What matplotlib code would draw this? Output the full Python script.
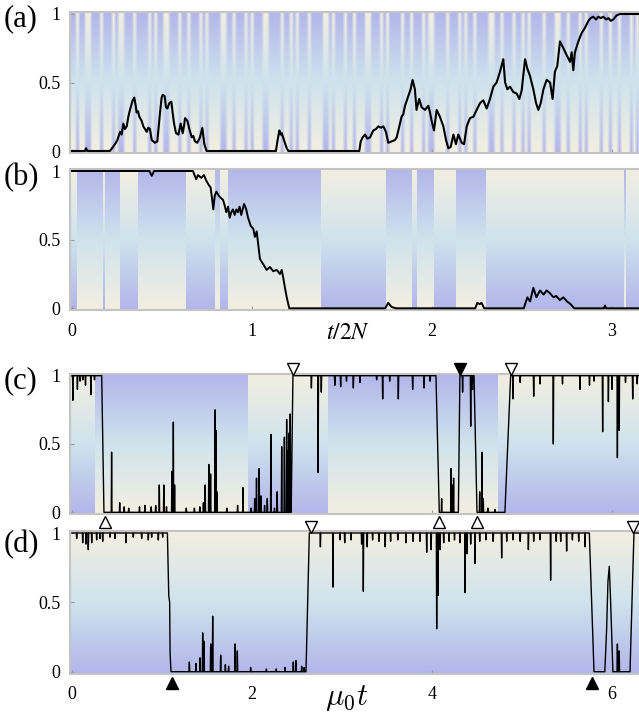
import numpy as np
import matplotlib
matplotlib.use('Agg')
import matplotlib.pyplot as plt
from matplotlib.colors import LinearSegmentedColormap

plt.rcParams['font.family'] = ['Liberation Serif', 'DejaVu Serif']
plt.rcParams['mathtext.fontset'] = 'stix'

# ---------------- data ----------------
# environment state: B = blue at top, C = cream at top
# (a) fast switching, one character per bin over 0..3.15
a_states = ("BBCBBCCBBB" "CBBBCBCCBB" "BCBBBBCBCB" "BCCBBBCBBC" "BBBCBCBBBB"
            "CCBBCBBBCB" "CBBBCCBBBB" "CBBCBCBBBC" "BBBBCCBCBB" "BCBBCBBBCC"
            "BBBCBCBBBB" "CBBCBBBCBC" "CBBBBCBBBC" "BCBBCBBBBC" "CBBCBBBCBB"
            "CBCBBBBCBB" "BCCBBCBBBC" "BCBBBBCBBC" "BBCBBBCBCB")
# (b)-(d): switch times, state alternates starting from the given one
b_switch = [0.0, 0.024, 0.172, 0.18, 0.265, 0.367, 0.635, 0.793, 0.82, 0.867,
            1.383, 1.744, 1.887, 1.915, 2.011, 2.131, 2.303, 3.067, 3.078]
b_first = 'C'
c_switch = [0.0, 0.256, 1.95, 2.848, 4.737]
c_first = 'C'
d_switch = [0.0]
d_first = 'C'

# (a) trajectory, t in units of 2N
a_t = [0.0, 0.072, 0.078, 0.085, 0.211, 0.239, 0.252, 0.267, 0.276, 0.285, 0.294, 0.304,
       0.313, 0.322, 0.337, 0.346, 0.354, 0.359, 0.367, 0.374, 0.387, 0.396, 0.406, 0.415,
       0.424, 0.433, 0.443, 0.461, 0.474, 0.483, 0.489, 0.498, 0.504, 0.515, 0.522, 0.530,
       0.541, 0.552, 0.559, 0.567, 0.578, 0.591, 0.604, 0.615, 0.622, 0.628, 0.641, 0.652,
       0.665, 0.674, 0.683, 0.696, 0.711, 0.724, 0.735, 0.748, 1.133, 1.141, 1.152, 1.159,
       1.165, 1.178, 1.193, 1.202, 1.596, 1.604, 1.615, 1.628, 1.641, 1.656, 1.674, 1.689,
       1.702, 1.717, 1.730, 1.744, 1.757, 1.776, 1.794, 1.804, 1.813, 1.831, 1.841, 1.850,
       1.868, 1.881, 1.892, 1.905, 1.914, 1.929, 1.942, 1.961, 1.980, 1.989, 1.998, 2.011,
       2.026, 2.044, 2.063, 2.078, 2.091, 2.104, 2.119, 2.133, 2.146, 2.165, 2.178, 2.193,
       2.211, 2.230, 2.248, 2.267, 2.285, 2.304, 2.322, 2.341, 2.359, 2.378, 2.396, 2.406,
       2.419, 2.433, 2.452, 2.470, 2.485, 2.498, 2.517, 2.530, 2.544, 2.563, 2.578, 2.591,
       2.604, 2.619, 2.637, 2.656, 2.670, 2.683, 2.696, 2.711, 2.730, 2.748, 2.767, 2.776,
       2.785, 2.794, 2.813, 2.831, 2.850, 2.869, 2.881, 2.896, 2.911, 2.924, 2.937, 2.952,
       2.967, 2.980, 2.993, 3.007, 3.026, 3.044, 3.17]
a_y = [0.0, 0.0, 0.02, 0.0, 0.0, 0.05, 0.08, 0.14, 0.12, 0.20, 0.16, 0.18,
       0.25, 0.30, 0.37, 0.39, 0.33, 0.28, 0.29, 0.25, 0.22, 0.18, 0.16, 0.14,
       0.17, 0.16, 0.08, 0.06, 0.07, 0.20, 0.28, 0.39, 0.41, 0.40, 0.32, 0.31,
       0.35, 0.36, 0.28, 0.20, 0.13, 0.12, 0.20, 0.13, 0.18, 0.24, 0.22, 0.16,
       0.10, 0.11, 0.07, 0.06, 0.10, 0.17, 0.05, 0.0, 0.0, 0.07, 0.15, 0.12,
       0.13, 0.08, 0.02, 0.0, 0.0, 0.07, 0.10, 0.12, 0.09, 0.10, 0.15, 0.16,
       0.18, 0.17, 0.18, 0.14, 0.06, 0.07, 0.08, 0.10, 0.15, 0.25, 0.27, 0.33,
       0.40, 0.45, 0.52, 0.45, 0.30, 0.38, 0.32, 0.30, 0.33, 0.28, 0.22, 0.15,
       0.30, 0.25, 0.18, 0.08, 0.02, 0.03, 0.12, 0.05, 0.12, 0.06, 0.05, 0.18,
       0.24, 0.25, 0.30, 0.35, 0.37, 0.31, 0.38, 0.47, 0.50, 0.58, 0.67, 0.50,
       0.45, 0.47, 0.43, 0.42, 0.38, 0.44, 0.67, 0.60, 0.55, 0.45, 0.35, 0.30,
       0.35, 0.45, 0.52, 0.50, 0.38, 0.58, 0.62, 0.80, 0.75, 0.70, 0.65, 0.72,
       0.59, 0.72, 0.80, 0.86, 0.90, 0.95, 0.97, 0.98, 0.96, 0.98, 0.97, 0.98,
       0.96, 0.97, 0.95, 0.96, 0.99, 1.0, 1.0]

# (b) trajectory
b_t = [0.0, 0.43, 0.443, 0.456, 0.672, 0.681, 0.69, 0.70, 0.719, 0.733, 0.746, 0.759,
       0.77, 0.778, 0.785, 0.793, 0.802, 0.815, 0.83, 0.839, 0.848, 0.857, 0.867, 0.876,
       0.885, 0.894, 0.904, 0.913, 0.922, 0.931, 0.94, 0.956, 0.968, 0.978, 0.993, 1.007,
       1.016, 1.026, 1.035, 1.044, 1.053, 1.063, 1.081, 1.10, 1.118, 1.137, 1.155, 1.165,
       1.174, 1.183, 1.193, 1.207, 1.74, 1.757, 1.775, 1.80, 2.24, 2.252, 2.265, 2.275,
       2.29, 2.51, 2.517, 2.53, 2.545, 2.563, 2.58, 2.60, 2.62, 2.637, 2.655, 2.675,
       2.69, 2.71, 2.73, 2.75, 2.77, 2.79, 2.955, 2.961, 2.967, 3.17]
b_y = [1.0, 1.0, 0.965, 1.0, 1.0, 0.97, 0.94, 0.97, 0.95, 0.97, 0.93, 0.90,
       0.88, 0.80, 0.72, 0.82, 0.85, 0.82, 0.80, 0.79, 0.75, 0.70, 0.74, 0.66,
       0.70, 0.72, 0.68, 0.72, 0.70, 0.74, 0.68, 0.76, 0.72, 0.66, 0.60, 0.58,
       0.52, 0.56, 0.46, 0.36, 0.34, 0.32, 0.28, 0.30, 0.27, 0.28, 0.25, 0.28,
       0.22, 0.15, 0.08, 0.0, 0.0, 0.04, 0.01, 0.0, 0.0, 0.04, 0.03, 0.04,
       0.0, 0.0, 0.03, 0.08, 0.05, 0.15, 0.08, 0.13, 0.10, 0.13, 0.11, 0.08,
       0.09, 0.06, 0.08, 0.05, 0.03, 0.0, 0.0, 0.02, 0.0, 0.0]

# (c) trajectory in units of 1/mu0: plateaus and jumps, plus sharp spikes
c_t = [0.0, 0.33, 0.355, 2.435, 2.455, 4.044, 4.081, 4.293, 4.31, 4.467, 4.50, 4.81, 4.874, 6.34]
c_y = [1.0, 1.0, 0.0, 0.0, 1.0, 1.0, 0.0, 0.0, 1.0, 1.0, 0.0, 0.0, 1.0, 1.0]
c_spike_t = [0.01, 0.06, 0.09, 0.12, 0.15, 0.21, 0.25,
             0.44, 0.53, 0.58, 0.63, 0.75, 0.81, 0.88, 0.93, 0.97, 1.02, 1.05, 1.11, 1.126,
             1.14, 1.27, 1.36, 1.42, 1.46, 1.48, 1.52, 1.54, 1.589, 1.60, 1.61, 1.72, 1.84,
             1.90, 1.99, 2.03, 2.05, 2.08, 2.10, 2.14, 2.17, 2.21, 2.25, 2.28, 2.33, 2.36,
             2.385, 2.40, 2.41, 2.425,
             2.66, 2.735, 2.77, 2.92, 2.985, 3.05, 3.126, 3.2, 3.385, 3.452, 3.53, 3.626,
             3.785, 3.911, 3.98,
             4.107, 4.211, 4.23, 4.24, 4.34, 4.43, 4.45,
             4.53, 4.556, 4.57, 4.62, 4.70,
             4.90, 4.98, 5.13, 5.20, 5.348, 5.45, 5.644, 5.75, 5.80, 5.896, 5.96, 6.0,
             6.06, 6.08, 6.15, 6.23, 6.28]
c_spike_y = [0.82, 0.90, 0.96, 0.97, 0.93, 0.86, 0.97,
             0.44, 0.07, 0.04, 0.03, 0.04, 0.05, 0.04, 0.05, 0.20, 0.20, 0.04, 0.30, 0.66,
             0.20, 0.03, 0.03, 0.04, 0.07, 0.20, 0.35, 0.28, 0.75, 0.60, 0.15, 0.03, 0.05,
             0.18, 0.03, 0.10, 0.25, 0.32, 0.12, 0.05, 0.10, 0.57, 0.03, 0.15, 0.48, 0.55,
             0.68, 0.45, 0.58, 0.72,
             0.91, 0.29, 0.88, 0.93, 0.92, 0.96, 0.91, 0.95, 0.97, 0.83, 0.96, 0.83,
             0.90, 0.91, 0.96,
             0.10, 0.32, 0.20, 0.25, 0.88, 0.63, 0.90,
             0.15, 0.44, 0.10, 0.03, 0.02,
             0.83, 0.95, 0.85, 0.94, 0.50, 0.94, 0.90, 0.93, 0.96, 0.59, 0.81, 0.90,
             0.40, 0.60, 0.95, 0.83, 0.94]

# (d) trajectory
d_t = [0.0, 1.06, 1.075, 1.085, 1.09, 1.10, 2.60, 2.637, 5.748, 5.80, 5.92, 5.94, 5.955,
       5.97, 5.985, 6.01, 6.20, 6.244, 6.34]
d_y = [1.0, 1.0, 0.55, 0.50, 0.13, 0.0, 0.0, 1.0, 1.0, 0.0, 0.0, 0.30, 0.65,
       0.76, 0.50, 0.0, 0.0, 1.0, 1.0]
d_spike_t = [0.052, 0.119, 0.156, 0.181, 0.219, 0.274, 0.311, 0.341, 0.422, 0.478, 0.60,
             0.681, 0.774, 0.848, 0.885, 0.959, 1.007,
             1.304, 1.378, 1.422, 1.452, 1.467, 1.541, 1.563, 1.652, 1.704, 1.74, 1.811,
             1.837, 1.985, 2.16, 2.27, 2.367, 2.459, 2.489, 2.552, 2.58,
             2.76, 2.90, 2.978, 3.03, 3.10, 3.218, 3.237, 3.28, 3.34, 3.41, 3.48, 3.54,
             3.62, 3.71, 3.79, 3.867, 3.941, 3.99, 4.052, 4.067, 4.09, 4.13, 4.19, 4.25,
             4.31, 4.367, 4.39, 4.43, 4.478, 4.53, 4.60, 4.68, 4.774, 4.83, 4.90, 4.98,
             5.071, 5.13, 5.20, 5.318, 5.38, 5.43, 5.496, 5.56, 5.63, 5.70,
             6.06, 6.08]
d_spike_y = [0.96, 0.93, 0.92, 0.88, 0.93, 0.95, 0.96, 0.94, 0.97, 0.96, 0.93,
             0.97, 0.96, 0.95, 0.97, 0.95, 0.97,
             0.07, 0.06, 0.10, 0.28, 0.22, 0.20, 0.40, 0.12, 0.05, 0.04, 0.20,
             0.15, 0.03, 0.02, 0.02, 0.03, 0.07, 0.08, 0.04, 0.03,
             0.90, 0.61, 0.95, 0.93, 0.95, 0.92, 0.58, 0.90, 0.95, 0.94, 0.90, 0.94,
             0.95, 0.93, 0.94, 0.94, 0.86, 0.88, 0.31, 0.55, 0.88, 0.93, 0.94, 0.95,
             0.93, 0.57, 0.85, 0.92, 0.78, 0.94, 0.95, 0.94, 0.82, 0.94, 0.95, 0.94,
             0.88, 0.94, 0.95, 0.66, 0.94, 0.94, 0.87, 0.95, 0.94, 0.90,
             0.20, 0.15]

# fixation / loss events marked with triangles (times)
c_open_down = [2.46, 4.88]
c_filled_down = [4.31]
c_open_up = [0.37, 4.08, 4.50]
d_open_down = [2.66, 6.23]
d_filled_up = [1.11, 5.78]

# ---------------- figure ----------------
W, H = 639.0, 715.0
fig = plt.figure(figsize=(W / 100, H / 100), dpi=100)

cmap = LinearSegmentedColormap.from_list('env', ['#f3efe1', '#cfe3ed', '#b2b5ea'])
YPAD = 0.015


def states_from_switches(tt, switch, first):
    idx = np.searchsorted(switch, tt, side='right') - 1
    idx = np.clip(idx, 0, None)
    blue_first = first == 'B'
    return np.where(idx % 2 == 0, blue_first, not blue_first)


def make_axes(px1, px0, x0_px, per_unit):
    span = px0 - px1
    top = px1 - YPAD * span
    bot = px0 + YPAD * span
    left, right = 70.0, 642.0
    ax = fig.add_axes([left / W, 1 - bot / H, (right - left) / W, (bot - top) / H])
    ax.set_xlim((left - x0_px) / per_unit, (right - x0_px) / per_unit)
    ax.set_ylim(-YPAD, 1 + YPAD)
    return ax


def background(ax, is_blue, interp='nearest', extent_x=None):
    x0, x1 = extent_x if extent_x is not None else ax.get_xlim()
    yy = np.linspace(0, 1, 256)
    img = np.where(is_blue[None, :], yy[:, None], 1 - yy[:, None])
    ax.imshow(img, cmap=cmap, vmin=0, vmax=1, origin='lower', aspect='auto',
              extent=[x0, x1, -YPAD, 1 + YPAD], interpolation=interp, zorder=0)
    ax.set_xlim(*ax.get_xlim())


def with_spikes(t, y, st, sy, w):
    pts = list(zip(t, y))
    for ts, ys in zip(st, sy):
        base = float(np.interp(ts, t, y))
        pts += [(ts - w, base), (ts, ys), (ts + w, base)]
    pts.sort()
    arr = np.array(pts)
    return arr[:, 0], arr[:, 1]


def style(ax, xticks, show_xlabels):
    for s in ax.spines.values():
        s.set_color('#c4c4c4')
        s.set_linewidth(1.5)
    ax.set_yticks([0, 0.5, 1])
    ax.set_yticklabels(['0', '0.5', '1'])
    ax.set_xticks(xticks)
    if show_xlabels:
        ax.set_xticklabels([str(v) for v in xticks])
    else:
        ax.set_xticklabels([])
    ax.tick_params(direction='in', length=3, width=0.8, color='#999999',
                   labelsize=13, pad=7)
    ax.tick_params(axis='x', pad=9)


panels = {}
# (a) : one image column per state bin, blended between neighbours
ax = make_axes(14, 151, 72, 180)
xl = ax.get_xlim()
background(ax, np.array([s == 'B' for s in a_states]), interp='bilinear',
           extent_x=(xl[0], 3.15 + (xl[1] - 3.15)))
ax.plot(a_t, a_y, color='black', lw=1.5, zorder=3)
style(ax, [0, 1, 2, 3], False)
panels['(a)'] = 19

# (b)
ax = make_axes(171, 308.3, 72, 180)
cols = np.linspace(*ax.get_xlim(), 2000)
background(ax, states_from_switches(cols, b_switch, b_first))
ax.plot(b_t, b_y, color='black', lw=1.4, zorder=3)
style(ax, [0, 1, 2, 3], True)
panels['(b)'] = 178

# (c)
ax = make_axes(375.7, 512.3, 72, 90)
cols = np.linspace(*ax.get_xlim(), 2000)
background(ax, states_from_switches(cols, c_switch, c_first))
xt, yt = with_spikes(c_t, c_y, c_spike_t, c_spike_y, 0.004)
ax.plot(xt, yt, color='black', lw=1.0, zorder=3)
style(ax, [0, 2, 4, 6], False)
ax.plot(c_open_down, [1.049] * len(c_open_down), 'v', ms=9, mfc='white', mec='black',
        mew=1.0, clip_on=False, zorder=5)
ax.plot(c_filled_down, [1.049] * len(c_filled_down), 'v', ms=9, mfc='black', mec='black',
        clip_on=False, zorder=5)
ax.plot(c_open_up, [-0.071] * len(c_open_up), '^', ms=9, mfc='white', mec='black',
        mew=1.0, clip_on=False, zorder=5)
panels['(c)'] = 381

# (d)
ax = make_axes(533, 671.7, 72, 90)
cols = np.linspace(*ax.get_xlim(), 2000)
background(ax, states_from_switches(cols, d_switch, d_first))
xt, yt = with_spikes(d_t, d_y, d_spike_t, d_spike_y, 0.004)
ax.plot(xt, yt, color='black', lw=1.0, zorder=3)
style(ax, [0, 2, 4, 6], True)
ax.plot(d_open_down, [1.045] * len(d_open_down), 'v', ms=9, mfc='white', mec='black',
        mew=1.0, clip_on=False, zorder=5)
ax.plot(d_filled_up, [-0.078] * len(d_filled_up), '^', ms=9, mfc='black', mec='black',
        clip_on=False, zorder=5)
panels['(d)'] = 545

for lab, ypx in panels.items():
    fig.text(4 / W, 1 - ypx / H, lab, fontsize=22, ha='left', va='center')

fig.text(348 / W, 1 - 339 / H, r'$t/2N$', fontsize=17, ha='center', va='baseline')
fig.text(347 / W, 1 - 705 / H, r'$\mu_0 t$', fontsize=22, ha='center', va='baseline',
         math_fontfamily='cm')

fig.savefig('out.png', dpi=100)
